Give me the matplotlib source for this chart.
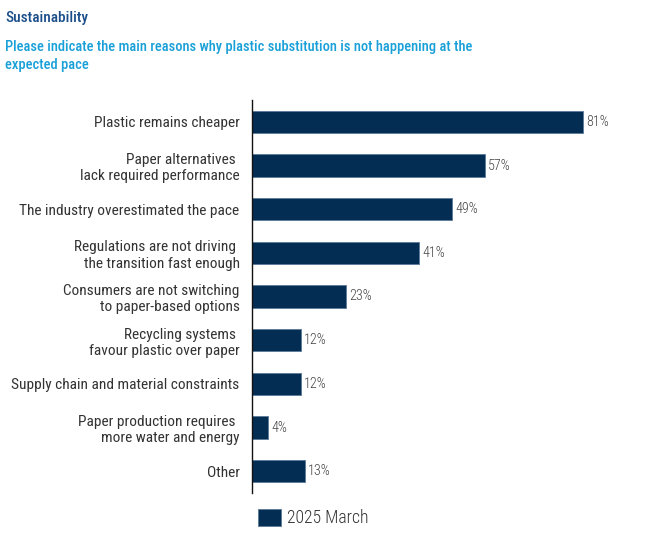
import matplotlib
matplotlib.use("Agg")
import matplotlib.pyplot as plt
from matplotlib.patches import Patch
from matplotlib import font_manager

categories = [
    "Plastic remains cheaper",
    "Paper alternatives \nlack required performance",
    "The industry overestimated the pace",
    "Regulations are not driving \nthe transition fast enough",
    "Consumers are not switching\nto paper-based options",
    "Recycling systems \nfavour plastic over paper",
    "Supply chain and material constraints",
    "Paper production requires \nmore water and energy",
    "Other",
]
values = [81, 57, 49, 41, 23, 12, 12, 4, 13]
value_labels = ["81%", "57%", "49%", "41%", "23%", "12%", "12%", "4%", "13%"]
series_name = "2025 March"
title = "Sustainability"
subtitle = "Please indicate the main reasons why plastic substitution is not happening at the\nexpected pace"

names = {f.name for f in font_manager.fontManager.ttflist}
fam = "DejaVu Sans"
for cand in ["Liberation Sans Narrow", "Roboto Condensed", "Open Sans Condensed", "Roboto", "Liberation Sans"]:
    if cand in names:
        fam = cand
        break
plt.rcParams["font.family"] = [fam, "DejaVu Sans"]

bar_color = "#042D53"
W, H = 646, 543
fig = plt.figure(figsize=(W / 100, H / 100), dpi=100)
renderer = fig.canvas.get_renderer()


def fit_size(s, target_px, **kw):
    t = fig.text(0, 0, s, fontsize=10, **kw)
    w = t.get_window_extent(renderer).width
    t.remove()
    return 10 * target_px / w


fs_cat = fit_size("Supply chain and material constraints", 228)
fs_val = fit_size("81%", 22) * 1.03
fs_leg = fit_size("2025 March", 82, weight="light")
fs_title = fit_size(title, 78, weight="medium") * 1.05
fs_sub = fit_size(subtitle.split("\n")[0], 452, weight="medium") * 1.03

ax = fig.add_axes([252 / W, 1 - 493 / H, (646 - 252) / W, (493 - 100) / H])

y = list(range(len(categories)))
ax.barh(y, values, height=0.51, color=bar_color, edgecolor="#5a7a9a", linewidth=0.6)
ax.set_ylim(len(categories) - 0.5, -0.5)
ax.set_xlim(0, 96.5)
ax.set_yticks(y)
ax.set_yticklabels(categories, fontsize=fs_cat, color="#333333", linespacing=1.2)
ax.tick_params(axis="y", length=0, pad=9)
ax.set_xticks([])
for s in ["top", "right", "bottom"]:
    ax.spines[s].set_visible(False)
ax.spines["left"].set_color("#111111")
ax.spines["left"].set_linewidth(1)

for yi, v, lab in zip(y, values, value_labels):
    ax.text(v + 0.8, yi, lab, va="center", ha="left", fontsize=fs_val, color="#444444", weight="light")

fig.text(5 / W, 1 - 18 / H, title, fontsize=fs_title, color="#1C4F8A", va="center", ha="left", weight="medium")
fig.text(5 / W, 1 - 56 / H, subtitle,
         fontsize=fs_sub, color="#1AA0D8", va="center", ha="left", linespacing=1.3, weight="medium")

fig.legend(handles=[Patch(facecolor=bar_color, edgecolor="#5a7a9a", linewidth=0.6, label=series_name)],
           loc="center left", bbox_to_anchor=(251 / W, 1 - 518 / H), frameon=False,
           handlelength=1.3, handleheight=1.1, handletextpad=0.3, borderpad=0.2, borderaxespad=0.2,
           labelcolor="#333333", prop={"weight": "light", "size": fs_leg})

fig.savefig("out.png", dpi=100)
